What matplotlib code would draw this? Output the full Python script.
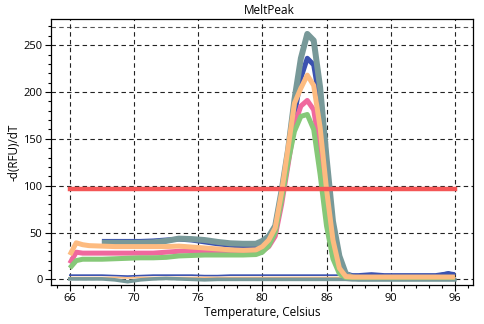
import numpy as np
import matplotlib.pyplot as plt
from matplotlib.ticker import MultipleLocator, FixedLocator

plt.rcParams['font.family'] = ['Open Sans', 'DejaVu Sans']

nan = np.nan
temps = [65.5, 66, 66.5, 67, 68, 69, 70, 71, 72, 73, 74, 75, 76, 77, 78, 79, 80,
         80.5, 81, 81.5, 82, 82.5, 83, 83.5, 84, 84.5, 85, 85.5, 86, 86.5, 87,
         87.5, 88, 89, 90, 91, 92, 93, 94, 95, 95.5]

# positive wells
gray_hi = [nan, nan, nan, nan, 39, 39, 39, 39, 39.5, 41, 43.5, 43, 42, 40, 38.5, 38, 38,
           41, 46, 57, 95, 138, 192, 236, 262, 255, 205, 130, 62, 25, 6,
           2, 1, 1, 1, 1, 1, 1, 1, 1, 1]
blue_hi = [nan, nan, nan, nan, 40.5, 40.5, 40.5, 40.5, 41, 42, 43, 42, 40, 38, 36.5, 35.5, 35,
           38, 44, 56, 92, 130, 175, 215, 236, 229, 188, 118, 56, 20, 6,
           4, 4, 5, 4, 4, 4, 4, 4, 6, 5]
pink_hi = [17, 29, 28, 28, 28, 28, 28, 28, 28, 29, 30, 30.5, 30.5, 30, 29.5, 29, 29,
           30, 35, 46, 80, 122, 165, 185, 191, 181, 138, 82, 36, 10, 3,
           2, 2, 2, 2, 2, 2, 2, 2, 2, 2]
green_hi = [12, 20, 21.5, 21.5, 21.5, 22, 22.5, 23, 23, 23.5, 25, 25.5, 26, 26, 26, 26, 26.5,
            29, 36, 50, 85, 125, 158, 174, 176, 160, 112, 57, 22, 6, 2,
            2, 2, 2, 2, 2, 2, 2, 2, 2, 2]
orange_hi = [26, 39, 37, 36, 35.5, 35, 35, 35, 35, 35, 35.5, 34.5, 33.5, 32.5, 31.5, 31, 31.5,
             35, 42, 55, 93, 140, 188, 204, 218, 207, 162, 96, 42, 12, 3,
             2.5, 2.5, 2.5, 2.5, 2.5, 2.5, 2.5, 2.5, 2.5, 2.5]

# negative wells
gray_lo = [0.5, 0.5, 0.5, 0.5, 0.5, -0.5, -2.5, -0.5, 0.5, 1, 0.5, 0, -0.5, 0, 0, 0, 0,
           0, 0, 0, 0, 0, 0, 0, 0, 0, 0, 0, 0, 0, 0,
           -0.5, -0.5, -0.5, -0.5, -0.5, -0.5, -0.5, -0.5, -0.5, -0.5]
blue_lo = [4.5, 4.5, 4.5, 4.5, 4.5, 4, 3.5, 4, 4.5, 4.5, 4.5, 4.5, 4, 4, 4.5, 4.5, 4.5,
           4.5, 4.5, 4.5, 4.5, 4.5, 4.5, 4.5, 4.5, 4.5, 4.5, 4.5, 4.5, 4.5, 4.5,
           4.5, 4.5, 5.5, 4.5, 4.5, 4.5, 4.5, 4.5, 8, 5]
orange_lo = [2, 2, 2, 2, 2, 2, 1.5, 2, 2, 2, 2, 2, 2, 2, 2, 2, 2,
             2, 2, 2, 2, 2, 2, 2, 2, 2, 2, 2, 2, 2, 2,
             1.8, 1.8, 1.8, 1.8, 1.8, 1.8, 1.8, 1.8, 1.8, 1.8]

threshold = 96
tick_pos = [65.5, 70.5, 75.5, 80.5, 85.5, 90.5, 95.5]
tick_lab = ['66', '70', '76', '80', '86', '90', '96']

c_gray = '#789999'
c_blue = '#3b52b0'
c_pink = '#f0689e'
c_green = '#86c878'
c_orange = '#fdbb80'
c_red = '#f45656'

fig = plt.figure(figsize=(4.84, 3.24), dpi=100)
ax = fig.add_axes([0.105, 0.121, 0.872, 0.820])

t = np.array(temps)
ax.plot(t, blue_lo, color=c_blue, lw=1.2, zorder=3)
ax.plot(t, orange_lo, color=c_orange, lw=1.2, zorder=3)
ax.plot(t, gray_lo, color=c_gray, lw=2.6, zorder=3)

kw = dict(solid_joinstyle='round', solid_capstyle='butt')
ax.plot(t, blue_hi, color=c_blue, lw=3.6, zorder=4, **kw)
ax.plot(t, gray_hi, color=c_gray, lw=4.3, zorder=4, **kw)
ax.plot(t, pink_hi, color=c_pink, lw=3.6, zorder=4, **kw)
ax.plot(t, green_hi, color=c_green, lw=3.6, zorder=4, **kw)
ax.plot(t, orange_hi, color=c_orange, lw=3.6, zorder=4, **kw)

ax.plot([tick_pos[0], tick_pos[-1]], [threshold, threshold], color=c_red, lw=3.2, zorder=6)

ax.set_xlim(64.02, 96.9)
ax.set_ylim(-5.8, 277.8)
ax.xaxis.set_major_locator(FixedLocator(tick_pos))
ax.set_xticklabels(tick_lab)
ax.xaxis.set_minor_locator(FixedLocator(np.arange(64.5, 96.6, 1.0)))
ax.yaxis.set_major_locator(MultipleLocator(50))
ax.yaxis.set_minor_locator(MultipleLocator(10))
ax.tick_params(which='both', direction='out', labelsize=8, colors='black', pad=2)
ax.tick_params(which='major', length=4, width=0.8)
ax.tick_params(which='minor', length=2, width=0.8)

ax.grid(True, which='major', color='#222222', linestyle=(0, (4, 3)), lw=0.8, zorder=1)
ax.axhline(269, color='#555555', linestyle=(0, (4, 3)), lw=0.8, zorder=1)

for s in ax.spines.values():
    s.set_linewidth(0.9)

ax.set_title('MeltPeak', fontsize=8.5, x=0.517, pad=4)
ax.set_xlabel('Temperature, Celsius', fontsize=8.5, labelpad=1)
ax.set_ylabel('-d(RFU)/dT', fontsize=8.5, labelpad=2)

fig.savefig('out.png', dpi=100)
